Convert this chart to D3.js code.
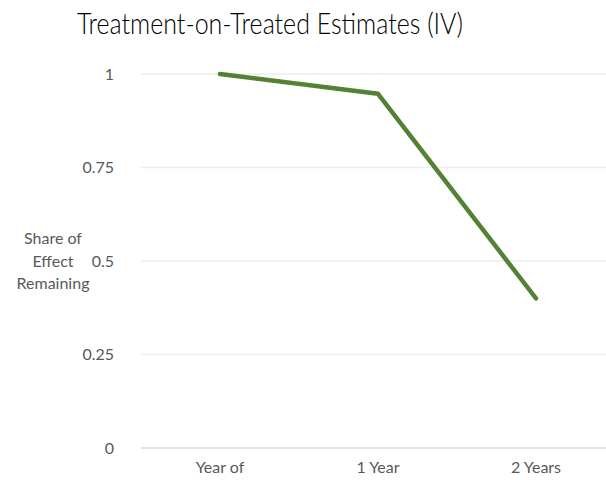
<!DOCTYPE html>
<html>
<head>
<meta charset="utf-8">
<script src="https://cdn.jsdelivr.net/npm/d3@7"></script>
<style>
  body { margin: 0; background: #fff; }
  svg { display: block; }
  .tick text { font-family: Lato, "Open Sans", sans-serif; fill: #595959; }
</style>
</head>
<body>
<div id="chart"></div>
<script>
var categories = ["Year of", "1 Year", "2 Years"];
var values = [1, 0.947, 0.40];
var yTicks = [0, 0.25, 0.5, 0.75, 1];
var yTickLabels = ["0", "0.25", "0.5", "0.75", "1"];
var titleText = "Treatment-on-Treated Estimates (IV)";
var yTitleLines = ["Share of", "Effect", "Remaining"];

var width = 606,
    height = 480;

var svg = d3.select("#chart").append("svg")
    .attr("width", width)
    .attr("height", height);

var x = d3.scaleBand().domain(categories).range([141, 615]);
var y = d3.scaleLinear().domain([0, 1]).range([448, 74]);

// gridlines
svg.append("g").selectAll("line")
    .data(yTicks)
  .enter().append("line")
    .attr("x1", 141)
    .attr("x2", 615)
    .attr("y1", function(d) { return y(d); })
    .attr("y2", function(d) { return y(d); })
    .attr("stroke", function(d) { return d == 0 ? "#d9d9d9" : "#ededed"; })
    .attr("stroke-width", 1.3);

// y axis labels
var yAxis = d3.axisLeft(y).tickValues(yTicks)
    .tickFormat(function(d, i) { return yTickLabels[i]; })
    .tickSize(0).tickPadding(0);
svg.append("g")
    .attr("transform", "translate(114,0)")
    .call(yAxis)
    .call(function(g) { g.select(".domain").remove(); })
    .selectAll("text")
    .attr("font-size", 16);

// x axis labels
var xAxis = d3.axisBottom(x).tickSize(0).tickPadding(0);
svg.append("g")
    .attr("transform", "translate(0,462)")
    .call(xAxis)
    .call(function(g) { g.select(".domain").remove(); })
    .selectAll("text")
    .attr("font-size", 16);

// line
var line = d3.line()
    .x(function(d, i) { return x(categories[i]) + x.bandwidth() / 2; })
    .y(function(d) { return y(d); });

svg.append("path")
    .datum(values)
    .attr("d", line)
    .attr("fill", "none")
    .attr("stroke", "#548235")
    .attr("stroke-width", 4.5)
    .attr("stroke-linecap", "round")
    .attr("stroke-linejoin", "round");

// title
svg.append("text")
    .attr("x", 270)
    .attr("y", 34)
    .attr("text-anchor", "middle")
    .attr("font-family", "Lato, sans-serif")
    .attr("font-size", 30)
    .attr("font-weight", 300)
    .attr("textLength", 386)
    .attr("lengthAdjust", "spacingAndGlyphs")
    .attr("fill", "#000")
    .text(titleText);

// y axis title
svg.append("g").selectAll("text")
    .data(yTitleLines)
  .enter().append("text")
    .attr("x", 53)
    .attr("y", function(d, i) { return 244 + i * 22.5; })
    .attr("text-anchor", "middle")
    .attr("font-family", "Lato, 'Open Sans', sans-serif")
    .attr("font-size", 16)
    .attr("fill", "#595959")
    .text(function(d) { return d; });
</script>
</body>
</html>
